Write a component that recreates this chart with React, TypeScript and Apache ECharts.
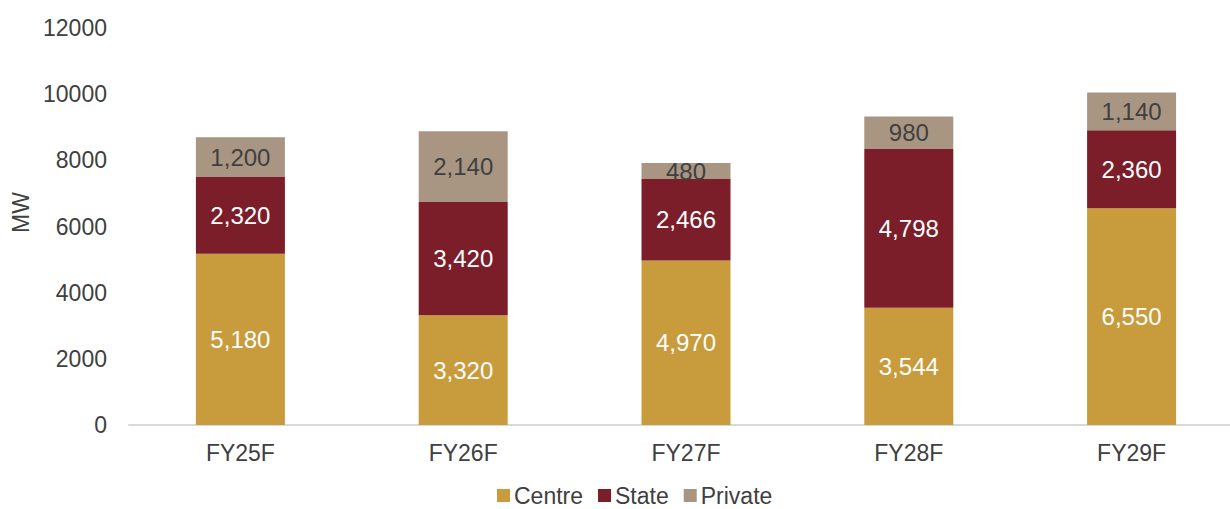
import React, { useEffect, useRef } from "react";
import * as echarts from "echarts";

const categories = ["FY25F", "FY26F", "FY27F", "FY28F", "FY29F"];
const centre = [5180, 3320, 4970, 3544, 6550];
const state = [2320, 3420, 2466, 4798, 2360];
const priv = [1200, 2140, 480, 980, 1140];
const yTicks = { min: 0, max: 12000, interval: 2000 };

const FONT = "Liberation Sans, Arial, sans-serif";
const TXT = "#404040";

export default function App() {
  const ref = useRef<HTMLDivElement>(null);
  useEffect(() => {
    if (!ref.current) return;
    const chart = echarts.init(ref.current, undefined, { renderer: "svg" });
    const fmt = (p: any) => Number(p.value).toLocaleString("en-US");
    const mk = (name: string, data: number[], color: string, labelColor: string) => ({
      name,
      type: "bar",
      stack: "total",
      data,
      barWidth: 89,
      itemStyle: { color },
      label: {
        show: true,
        position: "inside",
        color: labelColor,
        fontFamily: FONT,
        fontSize: 24,
        formatter: fmt,
      },
    });
    chart.setOption({
      animation: false,
      textStyle: { fontFamily: FONT },
      grid: { left: 129, width: 1114, top: 28, height: 397 },
      legend: {
        top: 479,
        left: 492,
        itemWidth: 13,
        itemHeight: 13,
        itemGap: 15,
        icon: "rect",
        textStyle: { color: TXT, fontSize: 23, fontFamily: FONT, padding: [0, 0, 0, -1] },
        data: ["Centre", "State", "Private"],
      },
      xAxis: {
        type: "category",
        data: categories,
        axisLine: { lineStyle: { color: "#D9D9D9", width: 2 } },
        axisTick: { show: false },
        axisLabel: { color: TXT, fontSize: 23, fontFamily: FONT, margin: 16 },
      },
      yAxis: {
        type: "value",
        min: yTicks.min,
        max: yTicks.max,
        interval: yTicks.interval,
        name: "MW",
        nameLocation: "middle",
        nameGap: 82,
        nameRotate: 90,
        nameTextStyle: { color: TXT, fontSize: 23, fontFamily: FONT, padding: [0, 0, 0, 28] },
        splitLine: { show: false },
        axisLine: { show: false },
        axisTick: { show: false },
        axisLabel: {
          color: TXT,
          fontSize: 23,
          fontFamily: FONT,
          margin: 22,
          formatter: (v: number) => String(v),
        },
      },
      series: [
        mk("Centre", centre, "#C89B3C", "#FFFFFF"),
        mk("State", state, "#7B1E2A", "#FFFFFF"),
        mk("Private", priv, "#A89683", TXT),
      ],
    });
    return () => chart.dispose();
  }, []);
  return (
    <div
      ref={ref}
      style={{ position: "fixed", left: 0, top: 0, width: 1260, height: 509, background: "#fff" }}
    />
  );
}
